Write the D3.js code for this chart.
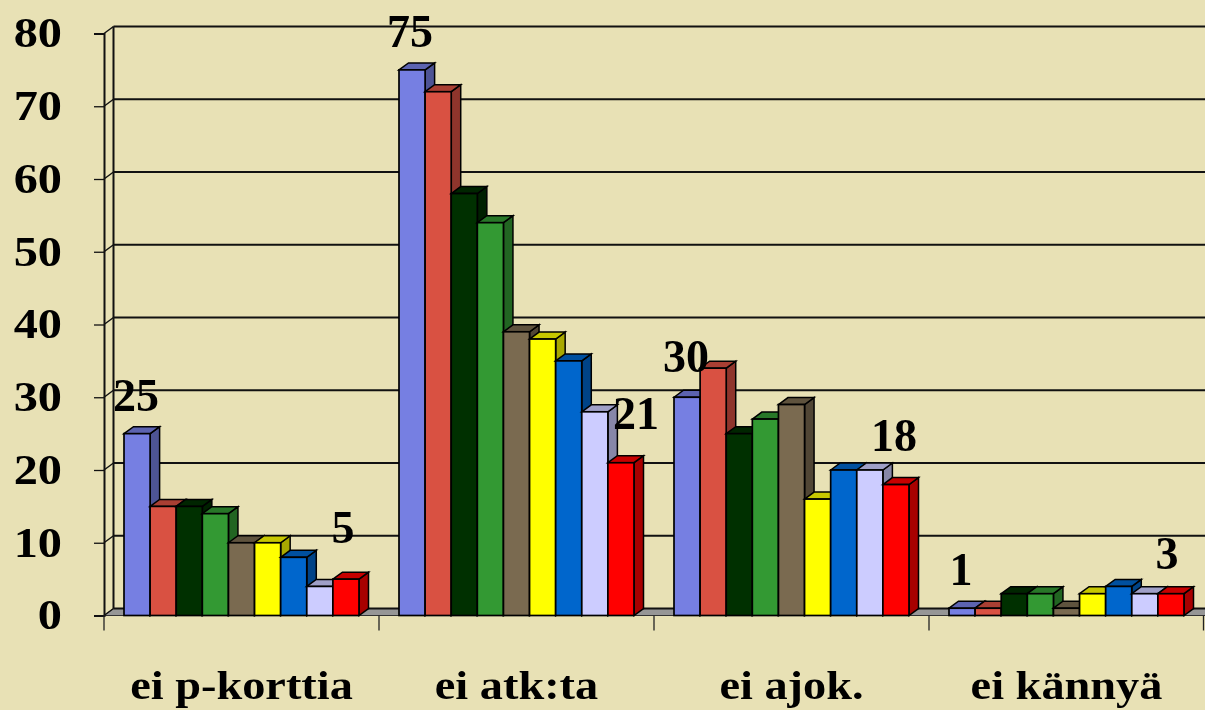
<!DOCTYPE html>
<html><head><meta charset="utf-8">
<script src="https://cdnjs.cloudflare.com/ajax/libs/d3/7.8.5/d3.min.js"></script>
<style>
html,body{margin:0;padding:0;background:#e8e1b5;overflow:hidden}
svg{display:block;filter:blur(0.55px)}
text{font-family:"Liberation Serif","Times New Roman",serif;fill:#000}
</style></head><body>
<svg id="c" width="1205" height="710"></svg>
<script>
const categories = ["ei p-korttia","ei atk:ta","ei ajok.","ei kännyä"];
const seriesNames = ["s1","s2","s3","s4","s5","s6","s7","s8","s9"];
const s1 = [25,75,30,1];
const s2 = [15,72,34,1];
const s3 = [15,58,25,3];
const s4 = [14,54,27,3];
const s5 = [10,39,29,1];
const s6 = [10,38,16,3];
const s7 = [8,35,20,4];
const s8 = [4,28,20,3];
const s9 = [5,21,18,3];
const seriesValues = [s1,s2,s3,s4,s5,s6,s7,s8,s9];
const seriesColors = ["#767fe2","#d95142","#003000","#339933","#7a6a50","#ffff00","#0066cc","#ccccff","#ff0000"];
const yTicks = [0,10,20,30,40,50,60,70,80];
// label placement nudges (dx, dy from the bar's top-centre), series 1 then series 9
const labelNudgeFirst = [[-1,-23],[-2,-23],[-1,-25],[-1,-23]];
const labelNudgeLast = [[-3,-36],[15,-34],[-2,-34],[-4,-25]];

const DX = 9.5, DY = -7;
const svg = d3.select("#c");
const y = d3.scaleLinear().domain([0,80]).range([615.5,33.5]);
const x0 = d3.scaleBand().domain(categories).range([104,1204]);
const x1 = d3.scaleBand().domain(seriesNames).range([20,255]);
const stretch = (sel,k) => sel.each(function(){
  const w = this.getComputedTextLength();
  d3.select(this).attr("textLength",w*k).attr("lengthAdjust","spacingAndGlyphs");
});

// floor
svg.append("path")
  .attr("d",`M${x0.range()[0]},${y(0)}L${x0.range()[1]+2},${y(0)}L${x0.range()[1]+2},${y(0)+DY}L${x0.range()[0]+DX},${y(0)+DY}Z`)
  .attr("fill","#969696").attr("stroke","#333").attr("stroke-width",1);

// back wall gridlines
svg.append("g").selectAll("line").data(yTicks).join("line")
  .attr("x1",x0.range()[0]+DX).attr("x2",1205)
  .attr("y1",d=>y(d)+DY).attr("y2",d=>y(d)+DY)
  .attr("stroke","#111").attr("stroke-width",2);
// wall diagonals
svg.append("g").selectAll("line").data(yTicks).join("line")
  .attr("x1",x0.range()[0]).attr("x2",x0.range()[0]+DX)
  .attr("y1",d=>y(d)).attr("y2",d=>y(d)+DY)
  .attr("stroke","#111").attr("stroke-width",1.5);
// back vertical
svg.append("line").attr("x1",x0.range()[0]+DX).attr("x2",x0.range()[0]+DX)
  .attr("y1",y(80)+DY).attr("y2",y(0)+DY).attr("stroke","#111").attr("stroke-width",2);

// y axis
const yAxis = d3.axisLeft(y).tickValues(yTicks).tickSize(10);
const gy = svg.append("g").attr("transform",`translate(${x0.range()[0]},0)`).call(yAxis);
gy.select(".domain").attr("stroke","#111").attr("stroke-width",2);
gy.selectAll("line").attr("stroke","#111").attr("stroke-width",1.3);
gy.selectAll("text").attr("font-size",42).attr("font-weight","bold").attr("x",-42).attr("dy","0.32em").call(stretch,1.15);

// x axis
const xAxis = d3.axisBottom(x0).tickSize(0).tickPadding(54);
const gx = svg.append("g").attr("transform",`translate(0,${y(0)})`).call(xAxis);
gx.select(".domain").remove();
gx.selectAll("text").attr("font-size",41).attr("font-weight","bold").call(stretch,1.13);
svg.append("g").selectAll("line")
  .data(categories.map(c=>x0(c)).concat([x0.range()[1]-0.5])).join("line")
  .attr("x1",d=>d).attr("x2",d=>d).attr("y1",y(0)).attr("y2",y(0)+15)
  .attr("stroke","#222").attr("stroke-width",1.3);

// bars
const shade = (c,k)=>{const r=d3.rgb(c);return d3.rgb(r.r*k,r.g*k,r.b*k).formatHex();};
const flat = [];
categories.forEach((c,ci)=>seriesNames.forEach((s,si)=>flat.push({c,ci,s,si,v:seriesValues[si][ci]})));
const bars = svg.append("g").selectAll("g").data(flat).join("g");
bars.each(function(d){
  const g = d3.select(this), l = x0(d.c)+x1(d.s), r = l+x1.bandwidth(), t = y(d.v), b = y(0);
  const col = seriesColors[d.si];
  g.append("path").attr("d",`M${r},${t}L${r+DX},${t+DY}L${r+DX},${b+DY}L${r},${b}Z`)
    .attr("fill",shade(col,0.66)).attr("stroke","#000").attr("stroke-width",1.5);
  g.append("path").attr("d",`M${l},${t}L${l+DX},${t+DY}L${r+DX},${t+DY}L${r},${t}Z`)
    .attr("fill",shade(col,0.78)).attr("stroke","#000").attr("stroke-width",1.5);
  g.append("rect").attr("x",l).attr("y",t).attr("width",x1.bandwidth()).attr("height",b-t)
    .attr("fill",col).attr("stroke","#000").attr("stroke-width",1.7);
});

// value labels
const labels = [];
categories.forEach((c,ci)=>{
  labels.push({c,s:seriesNames[0],v:s1[ci],n:labelNudgeFirst[ci]});
  labels.push({c,s:seriesNames[8],v:s9[ci],n:labelNudgeLast[ci]});
});
svg.append("g").selectAll("text").data(labels).join("text")
  .attr("x",d=>x0(d.c)+x1(d.s)+x1.bandwidth()/2+d.n[0])
  .attr("y",d=>y(d.v)+d.n[1])
  .attr("text-anchor","middle").attr("font-size",46).attr("font-weight","bold")
  .text(d=>d.v);
</script>
</body></html>
